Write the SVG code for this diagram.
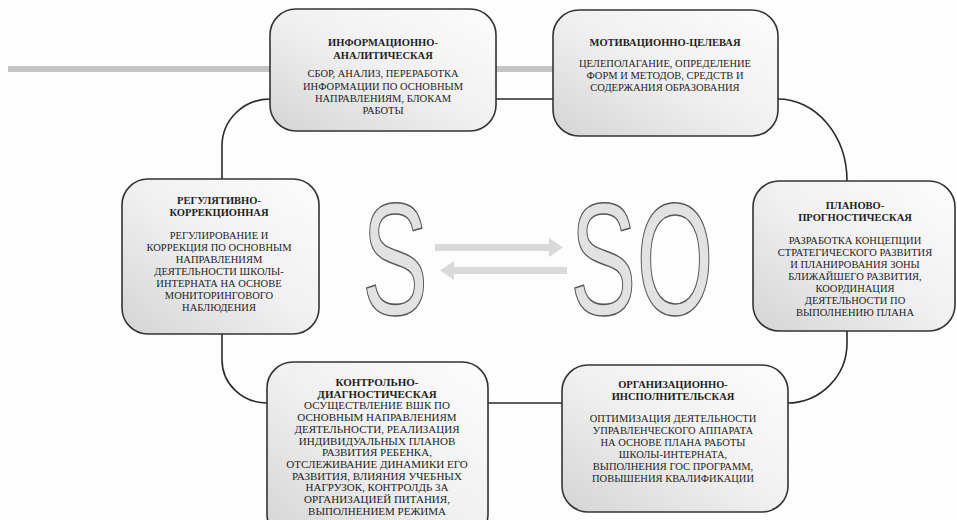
<svg xmlns="http://www.w3.org/2000/svg" width="957" height="520" viewBox="0 0 957 520">
<defs>
<linearGradient id="boxfill" x1="0" y1="1" x2="1" y2="0">
<stop offset="0" stop-color="#d4d4d4"/>
<stop offset="0.5" stop-color="#f0f0f0"/>
<stop offset="1" stop-color="#fcfcfc"/>
</linearGradient>
<style>
.box{fill:url(#boxfill);stroke:#333;stroke-width:1.6}
.t{font-size:10.5px;fill:#1e1e1e;text-anchor:middle}
.h{font-weight:bold;font-size:10.5px}
.b5{font-size:11px}
.big{font-size:160px;fill:#e2e2e2;stroke:#555;stroke-width:1.5;text-anchor:middle}
.loop{fill:none;stroke:#2a2a2a;stroke-width:1.6}
.arr{fill:#d9d9d9}
</style>
</defs>
<rect width="957" height="520" fill="#fdfdfd"/>
<rect x="8" y="66" width="547" height="6" fill="#c4c4c4"/>
<g id="connectors">
<path class="loop" d="M 222 360 V 146 A 48 47 0 0 1 270 99 H 778 A 69 82 0 0 1 847 181 V 342 A 60 60 0 0 1 787 403 H 267 A 45 43 0 0 1 222 360 Z"/>
</g>
<g id="center" font-family="Liberation Sans, Arial, sans-serif">
<text class="big" transform="translate(395,314) scale(0.62,1)" x="0" y="0">S</text>
<text class="big" transform="translate(642,314) scale(0.62,1)" x="0" y="0">SO</text>
<polygon class="arr" points="435,244 549,244 549,238 563,247.5 549,257 549,251 435,251"/>
<polygon class="arr" points="567,267 454,267 454,261 440,270.5 454,280 454,274 567,274"/>
</g>
<g id="info" font-family="Liberation Serif, Times New Roman, serif">
<rect class="box" x="270" y="9" width="226" height="122" rx="26"/>
<text class="t h" x="383" y="46">ИНФОРМАЦИОННО-</text>
<text class="t h" x="383" y="59">АНАЛИТИЧЕСКАЯ</text>
<text class="t" x="383" y="77">СБОР, АНАЛИЗ, ПЕРЕРАБОТКА</text>
<text class="t" x="383" y="90">ИНФОРМАЦИИ ПО ОСНОВНЫМ</text>
<text class="t" x="383" y="102">НАПРАВЛЕНИЯМ, БЛОКАМ</text>
<text class="t" x="383" y="114">РАБОТЫ</text>
</g>
<g id="motiv" font-family="Liberation Serif, Times New Roman, serif">
<rect class="box" x="553" y="10" width="225" height="126" rx="26"/>
<text class="t h" x="665" y="46">МОТИВАЦИОННО-ЦЕЛЕВАЯ</text>
<text class="t" x="665" y="67">ЦЕЛЕПОЛАГАНИЕ, ОПРЕДЕЛЕНИЕ</text>
<text class="t" x="665" y="79">ФОРМ И МЕТОДОВ, СРЕДСТВ И</text>
<text class="t" x="665" y="91">СОДЕРЖАНИЯ ОБРАЗОВАНИЯ</text>
</g>
<g id="plan" font-family="Liberation Serif, Times New Roman, serif">
<rect class="box" x="753" y="181" width="202" height="150" rx="26"/>
<text class="t h" x="855" y="209">ПЛАНОВО-</text>
<text class="t h" x="855" y="221">ПРОГНОСТИЧЕСКАЯ</text>
<text class="t" x="855" y="244">РАЗРАБОТКА КОНЦЕПЦИИ</text>
<text class="t" x="855" y="256">СТРАТЕГИЧЕСКОГО РАЗВИТИЯ</text>
<text class="t" x="855" y="268">И ПЛАНИРОВАНИЯ ЗОНЫ</text>
<text class="t" x="855" y="280">БЛИЖАЙШЕГО РАЗВИТИЯ,</text>
<text class="t" x="855" y="292">КООРДИНАЦИЯ</text>
<text class="t" x="855" y="304">ДЕЯТЕЛЬНОСТИ ПО</text>
<text class="t" x="855" y="316">ВЫПОЛНЕНИЮ ПЛАНА</text>
</g>
<g id="regul" font-family="Liberation Serif, Times New Roman, serif">
<rect class="box" x="122" y="179" width="197" height="155" rx="26"/>
<text class="t h" x="219" y="204">РЕГУЛЯТИВНО-</text>
<text class="t h" x="219" y="216">КОРРЕКЦИОННАЯ</text>
<text class="t" x="219" y="239">РЕГУЛИРОВАНИЕ И</text>
<text class="t" x="219" y="251">КОРРЕКЦИЯ ПО ОСНОВНЫМ</text>
<text class="t" x="219" y="263">НАПРАВЛЕНИЯМ</text>
<text class="t" x="219" y="275">ДЕЯТЕЛЬНОСТИ ШКОЛЫ-</text>
<text class="t" x="219" y="287">ИНТЕРНАТА НА ОСНОВЕ</text>
<text class="t" x="219" y="299">МОНИТОРИНГОВОГО</text>
<text class="t" x="219" y="311">НАБЛЮДЕНИЯ</text>
</g>
<g id="control" font-family="Liberation Serif, Times New Roman, serif">
<rect class="box" x="267" y="362" width="221" height="178" rx="26"/>
<text class="t h b5" x="377" y="386">КОНТРОЛЬНО-</text>
<text class="t h b5" x="377" y="397.7">ДИАГНОСТИЧЕСКАЯ</text>
<text class="t b5" x="377" y="409.4">ОСУЩЕСТВЛЕНИЕ ВШК ПО</text>
<text class="t b5" x="377" y="421.1">ОСНОВНЫМ НАПРАВЛЕНИЯМ</text>
<text class="t b5" x="377" y="432.8">ДЕЯТЕЛЬНОСТИ, РЕАЛИЗАЦИЯ</text>
<text class="t b5" x="377" y="444.5">ИНДИВИДУАЛЬНЫХ ПЛАНОВ</text>
<text class="t b5" x="377" y="456.2">РАЗВИТИЯ РЕБЕНКА,</text>
<text class="t b5" x="377" y="467.9">ОТСЛЕЖИВАНИЕ ДИНАМИКИ ЕГО</text>
<text class="t b5" x="377" y="479.6">РАЗВИТИЯ, ВЛИЯНИЯ УЧЕБНЫХ</text>
<text class="t b5" x="377" y="491.3">НАГРУЗОК, КОНТРОЛДЬ ЗА</text>
<text class="t b5" x="377" y="503">ОРГАНИЗАЦИЕЙ ПИТАНИЯ,</text>
<text class="t b5" x="377" y="514.7">ВЫПОЛНЕНИЕМ РЕЖИМА</text>
</g>
<g id="org" font-family="Liberation Serif, Times New Roman, serif">
<rect class="box" x="562" y="365" width="226" height="147" rx="26"/>
<text class="t h" x="673" y="388">ОРГАНИЗАЦИОННО-</text>
<text class="t h" x="673" y="400">ИНСПОЛНИТЕЛЬСКАЯ</text>
<text class="t" x="673" y="422">ОПТИМИЗАЦИЯ ДЕЯТЕЛЬНОСТИ</text>
<text class="t" x="673" y="434">УПРАВЛЕНЧЕСКОГО АППАРАТА</text>
<text class="t" x="673" y="446">НА ОСНОВЕ ПЛАНА РАБОТЫ</text>
<text class="t" x="673" y="458">ШКОЛЫ-ИНТЕРНАТА,</text>
<text class="t" x="673" y="470">ВЫПОЛНЕНИЯ ГОС ПРОГРАММ,</text>
<text class="t" x="673" y="482">ПОВЫШЕНИЯ КВАЛИФИКАЦИИ</text>
</g>
</svg>
